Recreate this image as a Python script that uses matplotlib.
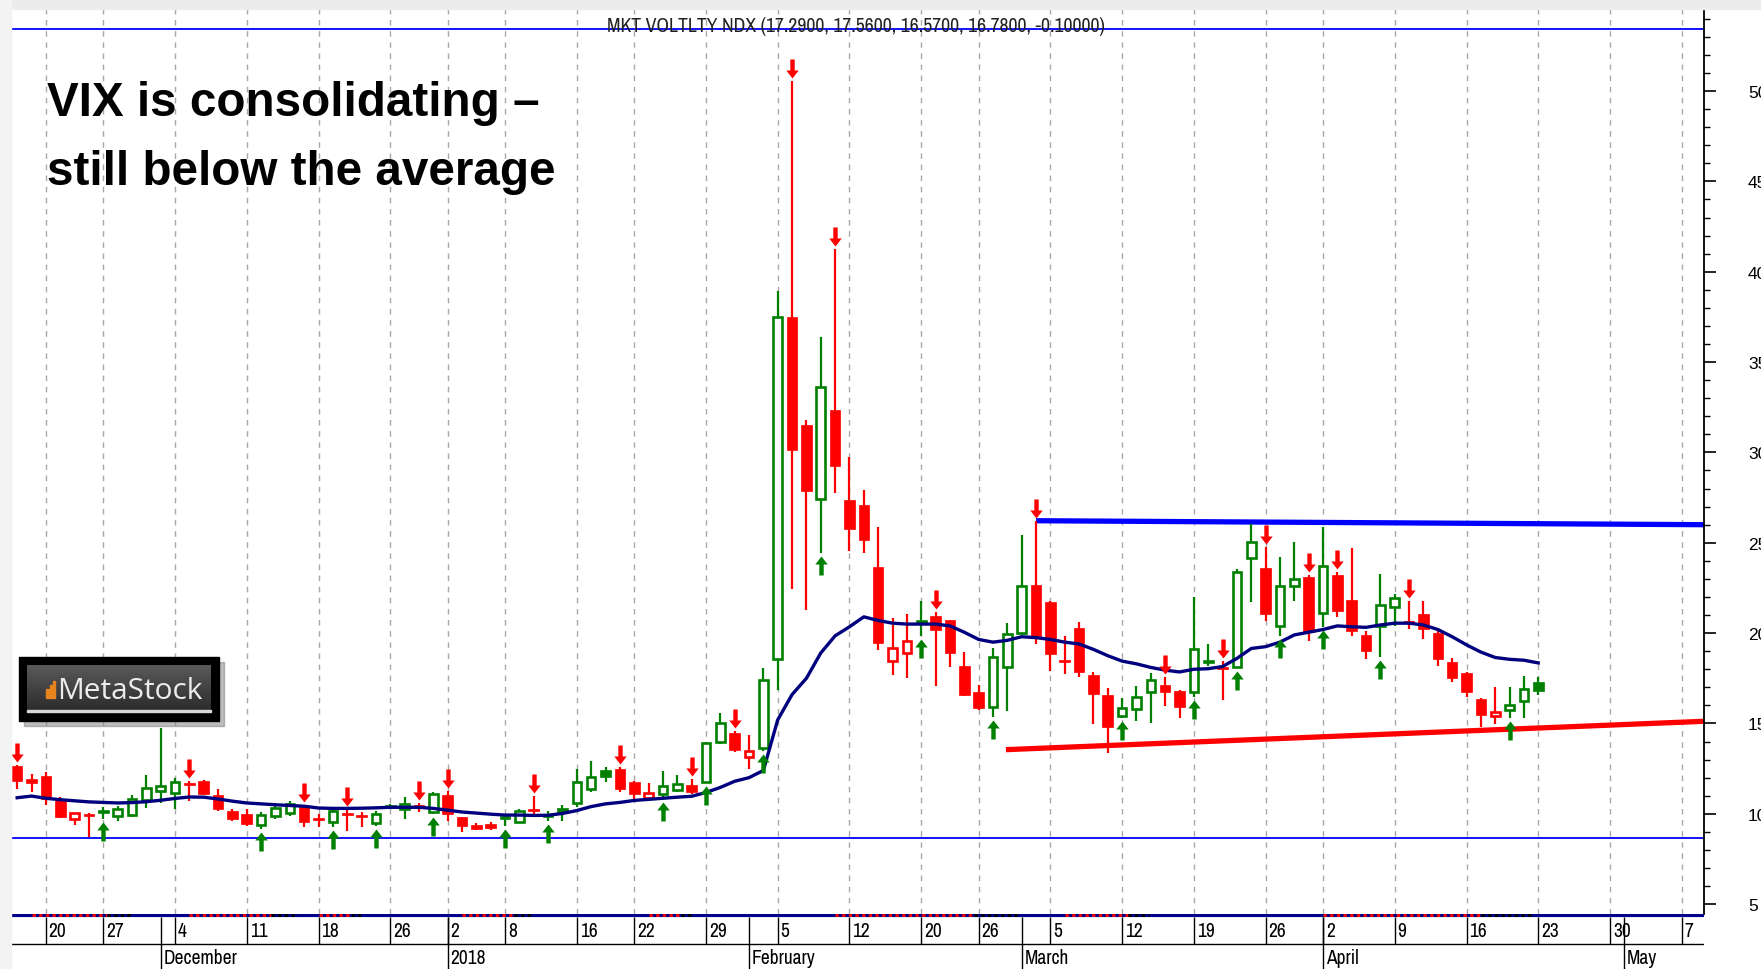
import numpy as np
import pandas as pd
import matplotlib
matplotlib.use('Agg')
import matplotlib.pyplot as plt
from matplotlib.patches import Rectangle
from matplotlib.path import Path
from matplotlib import font_manager
from matplotlib.colors import LinearSegmentedColormap

# trading days on the chart (exchange holidays removed)
holidays = ['2017-11-23', '2017-12-25', '2018-01-01', '2018-01-15', '2018-02-19', '2018-03-30']
days = pd.bdate_range('2017-11-16', '2018-05-11')
days = days[~days.isin(pd.to_datetime(holidays))]

# daily candles, 16 Nov 2017 .. 23 Apr 2018
opens = [12.66, 11.93, 12.11, 10.82, 9.71, 9.92, 10.10, 9.86, 9.93, 10.78,
         11.28, 11.15, 11.62, 11.81, 11.04, 10.17, 9.99, 9.38, 9.86, 10.06,
         10.36, 9.70, 9.56, 9.95, 9.88, 9.49, 10.39, 10.27, 10.38, 10.08,
         11.06, 9.80, 9.38, 9.44, 9.78, 9.56, 10.19, 9.95, 10.34, 10.60,
         11.37, 12.44, 12.48, 11.74, 10.89, 11.10, 11.34, 11.59, 11.78, 13.95,
         14.47, 13.12, 13.62, 18.54, 37.47, 31.51, 27.41, 32.32, 27.34, 27.07,
         23.68, 18.46, 18.88, 20.55, 20.96, 20.72, 18.16, 16.72, 15.89, 18.11,
         20.00, 22.66, 21.74, 18.45, 20.26, 17.68, 16.57, 15.39, 15.80, 16.72,
         17.13, 16.81, 16.72, 18.38, 18.03, 18.11, 24.14, 23.58, 20.41, 22.59,
         23.09, 21.11, 23.22, 21.85, 19.89, 20.41, 21.43, 20.58, 21.06, 20.01,
         18.42, 17.79, 16.35, 15.43, 15.76, 16.26, 17.29]
highs = [12.72, 12.20, 12.29, 10.91, 10.03, 10.03, 10.36, 10.45, 11.04, 12.15,
         14.75, 11.96, 11.83, 11.85, 11.37, 10.25, 10.27, 10.08, 10.45, 10.70,
         10.49, 9.99, 10.20, 10.27, 10.08, 10.17, 10.54, 10.91, 10.60, 11.23,
         11.28, 9.85, 9.49, 9.57, 9.99, 10.25, 11.00, 10.17, 10.49, 12.48,
         12.94, 12.57, 12.57, 11.80, 11.70, 12.39, 12.15, 11.90, 13.99, 15.58,
         14.60, 14.36, 18.05, 38.96, 50.53, 31.78, 36.37, 41.26, 29.77, 27.94,
         25.90, 20.81, 21.07, 21.80, 21.15, 20.75, 18.94, 17.13, 19.16, 20.56,
         25.43, 26.22, 21.80, 19.82, 20.63, 17.85, 16.94, 16.39, 17.09, 17.79,
         17.55, 16.87, 21.98, 19.40, 18.47, 23.55, 26.04, 24.75, 24.19, 25.02,
         23.20, 25.85, 23.40, 24.69, 20.10, 23.27, 22.16, 21.79, 21.79, 20.15,
         18.60, 17.85, 16.40, 17.00, 17.00, 17.64, 17.56]
lows = [11.37, 11.22, 10.49, 9.75, 9.38, 8.70, 9.71, 9.62, 9.80, 10.30,
        10.60, 10.27, 10.73, 11.05, 10.17, 9.62, 9.34, 9.16, 9.71, 9.90,
        9.25, 9.25, 9.25, 9.07, 9.25, 9.34, 10.27, 9.71, 10.12, 9.99,
        9.62, 9.01, 9.10, 9.12, 9.34, 9.49, 9.86, 9.62, 9.62, 10.36,
        11.19, 11.76, 11.19, 10.82, 10.85, 10.82, 11.19, 11.10, 11.70, 13.86,
        13.40, 12.48, 13.48, 16.84, 22.45, 21.28, 24.46, 27.75, 24.54, 24.46,
        19.06, 17.67, 17.49, 19.84, 17.05, 18.12, 16.50, 15.76, 15.34, 15.71,
        19.90, 19.40, 17.92, 17.74, 17.55, 14.97, 13.37, 15.28, 15.15, 15.03,
        15.98, 15.28, 16.44, 18.20, 16.32, 18.05, 21.70, 20.69, 19.86, 21.79,
        19.58, 20.32, 20.87, 19.86, 18.57, 18.66, 20.41, 20.23, 19.67, 18.20,
        17.28, 16.45, 14.79, 14.97, 15.28, 15.28, 16.57]
closes = [11.83, 11.70, 10.82, 9.80, 10.03, 9.88, 10.14, 10.27, 10.82, 11.41,
          11.52, 11.74, 11.57, 11.10, 10.27, 9.71, 9.44, 9.93, 10.30, 10.54,
          9.53, 9.66, 10.17, 9.91, 9.84, 9.99, 10.43, 10.54, 10.34, 11.10,
          9.99, 9.31, 9.16, 9.20, 9.82, 10.17, 10.15, 9.80, 10.02, 11.74,
          12.02, 12.06, 11.37, 11.10, 11.13, 11.56, 11.65, 11.22, 13.90, 15.00,
          13.55, 13.49, 17.42, 37.47, 30.16, 27.86, 33.60, 29.24, 25.77, 25.14,
          19.45, 19.19, 19.58, 20.68, 20.16, 18.88, 16.57, 15.84, 18.66, 19.95,
          22.63, 19.86, 18.84, 18.40, 17.83, 16.63, 14.79, 15.84, 16.44, 17.42,
          16.76, 15.89, 19.12, 18.44, 17.99, 23.40, 25.06, 21.06, 22.63, 22.99,
          20.04, 23.73, 21.24, 20.14, 19.03, 21.55, 21.92, 20.54, 20.23, 18.57,
          17.50, 16.76, 15.47, 15.65, 16.02, 16.88, 16.78]
colors = ('rrrrrrgggg' 'ggrrrrrggg' 'rrgrrgggrg' 'rrrrggrggg' 'ggrrrggrgg'
          'rrggrrgrrr' 'rrrgrrrrgg' 'grrrrrrggg' 'rrggrggrgg' 'rgrrrggrrr' 'rrrrggg')

# moving average line
ma = [10.89, 10.98, 10.86, 10.78, 10.72, 10.66, 10.63, 10.60, 10.62, 10.67,
      10.75, 10.85, 10.93, 10.92, 10.82, 10.70, 10.60, 10.55, 10.50, 10.46,
      10.42, 10.32, 10.30, 10.30, 10.31, 10.33, 10.36, 10.36, 10.36, 10.30,
      10.20, 10.10, 10.04, 9.98, 9.93, 9.93, 9.91, 9.92, 10.02, 10.18,
      10.40, 10.55, 10.63, 10.74, 10.80, 10.86, 10.92, 10.97, 11.18, 11.46,
      11.80, 12.00, 12.40, 15.20, 16.60, 17.50, 18.90, 19.85, 20.35, 20.90,
      20.70, 20.55, 20.50, 20.50, 20.50, 20.40, 20.05, 19.65, 19.50, 19.60,
      19.80, 19.75, 19.65, 19.50, 19.40, 19.10, 18.75, 18.45, 18.30, 18.10,
      17.95, 17.85, 18.00, 18.03, 18.15, 18.60, 19.15, 19.25, 19.50, 19.90,
      20.05, 20.20, 20.40, 20.35, 20.32, 20.45, 20.55, 20.55, 20.45, 20.20,
      19.80, 19.35, 18.95, 18.65, 18.55, 18.50, 18.35]

down_dates = ['2017-11-16', '2017-12-05', '2017-12-15', '2017-12-20', '2017-12-28',
              '2018-01-02', '2018-01-10', '2018-01-19', '2018-01-26', '2018-01-31',
              '2018-02-06', '2018-02-09', '2018-02-21', '2018-03-02', '2018-03-15',
              '2018-03-21', '2018-03-26', '2018-03-29', '2018-04-03', '2018-04-10']
up_dates = ['2017-11-27', '2017-12-12', '2017-12-19', '2017-12-22', '2017-12-29',
            '2018-01-08', '2018-01-11', '2018-01-24', '2018-01-29', '2018-02-02',
            '2018-02-08', '2018-02-20', '2018-02-27', '2018-03-12', '2018-03-19',
            '2018-03-22', '2018-03-27', '2018-04-02', '2018-04-06', '2018-04-19']

# hand drawn trend lines: (x0, y0, x1, y1) in bar units
support = (68.9, 13.55, 117.55, 15.12)
resistance = (71.0, 26.22, 117.55, 26.00)
upper_band = 53.43
lower_band = 8.66

# red/black signal segments on the bottom bar (bar units)
signal_spans = [(1, 8), (12, 19.6), (21, 24), (31, 35.8), (44, 47), (57, 69.9), (73, 78.9), (91, 105.7)]

title = 'MKT VOLTLTY NDX (17.2900, 17.5600, 16.5700, 16.7800, -0.10000)'
note1 = 'VIX is consolidating –'
note2 = 'still below the average'

W, H = 1761, 970
xlim = (-0.43, 117.55)
ylim = (4.455, 54.54)

names = set(f.name for f in font_manager.fontManager.ttflist)
narrow = None
for f in font_manager.fontManager.ttflist:
    if 'Narrow' in f.name or 'Condensed' in f.name:
        narrow = f.name
        break
if narrow is None:
    narrow = 'DejaVu Sans'
    title_size, date_size = 11.6, 10.8
else:
    title_size, date_size = 14.2, 14
arial = 'Liberation Sans' if 'Liberation Sans' in names else 'DejaVu Sans'

RED = '#ff0000'
GREEN = '#008000'

n = len(closes)
x = np.arange(n)
o = np.array(opens)
c = np.array(closes)
hi = np.array(highs)
lo = np.array(lows)
col = np.array([RED if k == 'r' else GREEN for k in colors])
hollow = c >= o

fig = plt.figure(figsize=(W / 100, H / 100), dpi=100)
fig.patch.set_facecolor('white')

def fx(px):
    return px / W

def fy(py):
    return 1 - py / H

# light frame strips on top and left
fig.patches.append(Rectangle((0, fy(10)), 1, 10 / H, transform=fig.transFigure, color='#ececec', zorder=0))
fig.patches.append(Rectangle((0, 0), fx(11), 1, transform=fig.transFigure, color='#f3f3f3', zorder=0))

ax = fig.add_axes([fx(11), 55 / H, 1693 / W, 905 / H])
ax.set_xlim(*xlim)
ax.set_ylim(*ylim)
ax.set_facecolor('white')

# weekly / monthly positions
dow = days.dayofweek.values
week_pos = [k for k in range(1, len(days)) if dow[k] < dow[k - 1] and k <= xlim[1]]
month_pos = [k for k in range(1, len(days)) if days[k].month != days[k - 1].month and k <= xlim[1]]

ax.vlines(week_pos, ylim[0], ylim[1], colors='#a8a8a8', linestyles=(0, (4, 4)), lw=1, zorder=1)

ax.axhline(upper_band, color='#0000ff', lw=1.3, zorder=2)
ax.axhline(lower_band, color='#0000ff', lw=1.3, zorder=2)

# candles
ax.vlines(x, lo, hi, colors=col, lw=1.6, zorder=3)
body_lo = np.minimum(o, c)
body_h = np.abs(c - o)
filled = ~hollow
ax.bar(x[filled], np.maximum(body_h[filled], 0.12), bottom=body_lo[filled], width=0.74,
       color=col[filled], edgecolor=col[filled], lw=0.5, zorder=4)
ax.bar(x[hollow], np.maximum(body_h[hollow], 0.02), bottom=body_lo[hollow], width=0.6,
       color='white', edgecolor=col[hollow], lw=1.9, zorder=4)

# moving average
ax.plot(x, ma, color='#00007f', lw=2.4, zorder=5)

# trend lines
ax.plot([support[0], support[2]], [support[1], support[3]], color=RED, lw=3.8, solid_capstyle='butt', zorder=2)
ax.plot([resistance[0], resistance[2]], [resistance[1], resistance[3]], color='#0000ff', lw=3.8,
        solid_capstyle='butt', zorder=2)

# signal arrows (marker paths in pixel units, tip 3px away from the bar)
up_verts = [(0, -3), (6.2, -11), (2.2, -11), (2.2, -22), (-2.2, -22), (-2.2, -11), (-6.2, -11), (0, -3)]
dn_verts = [(vx, -vy) for vx, vy in up_verts]
up_arrow = Path(up_verts, closed=True)
dn_arrow = Path(dn_verts, closed=True)
msize = 2 * 22 * 72 / 100

up_i = [days.get_loc(pd.Timestamp(d)) for d in up_dates]
dn_i = [days.get_loc(pd.Timestamp(d)) for d in down_dates]
ax.plot(up_i, lo[up_i], ls='none', marker=up_arrow, ms=msize, color=GREEN, mew=0, zorder=6)
ax.plot(dn_i, hi[dn_i], ls='none', marker=dn_arrow, ms=msize, color=RED, mew=0, zorder=6)

# axes frame: only the right price scale
for s in ['top', 'left', 'bottom']:
    ax.spines[s].set_visible(False)
ax.spines['right'].set_linewidth(1.3)
ax.set_xticks([])
ax.yaxis.tick_right()
ax.set_yticks(np.arange(5, 55, 5))
ax.set_yticks(np.arange(5, 55), minor=True)
ax.tick_params(axis='y', which='major', length=8.6, width=1.2, pad=23, labelsize=12.5)
ax.tick_params(axis='y', which='minor', length=4.3, width=1.0)
for lab in ax.get_yticklabels():
    lab.set_family(arial)

# date strip under the chart
axd = fig.add_axes([fx(11), 0, 1693 / W, 55 / H])
axd.set_xlim(*xlim)
axd.set_ylim(970, 915)
axd.axis('off')
axd.hlines(916.5, xlim[0], xlim[1], color='#00008b', lw=3)
for a, b in signal_spans:
    m = a + 0.75 * (b - a)
    axd.plot([a, m], [916.5, 916.5], color=RED, lw=2, ls=(0, (1.2, 1.2)))
    axd.plot([m, b], [916.5, 916.5], color='black', lw=2, ls=(0, (1.2, 1.2)))
axd.hlines(945, xlim[0], xlim[1], color='black', lw=1)
axd.vlines(week_pos, 918.5, 945, color='black', lw=1)
axd.vlines(month_pos, 918.5, 970, color='black', lw=1)
for k in week_pos:
    axd.text(k + 0.2, 932, str(days[k].day), fontsize=date_size, family=narrow, stretch='condensed',
             va='center', ha='left')
for k in month_pos:
    lab = '2018' if days[k].month == 1 else days[k].strftime('%B')
    axd.text(k + 0.2, 959, lab, fontsize=date_size, family=narrow, stretch='condensed',
             va='center', ha='left')

# header and notes
fig.text(fx(856), fy(27), title, fontsize=title_size, family=narrow, stretch='condensed',
         ha='center', va='center', color='#222222')
fig.text(fx(47), fy(115.5), note1, fontsize=34.3, fontweight='bold', family=arial, va='baseline')
fig.text(fx(47), fy(185), note2, fontsize=34.3, fontweight='bold', family=arial, va='baseline')

# MetaStock badge
fig.patches.append(Rectangle((fx(24), fy(727)), 200 / W, 64 / H, transform=fig.transFigure,
                             color='#7a7a7a', alpha=0.5, zorder=7))
fig.patches.append(Rectangle((fx(19), fy(722)), 200 / W, 64 / H, transform=fig.transFigure,
                             color='black', zorder=8))
logo_ax = fig.add_axes([fx(27), fy(711), 184 / W, 45 / H], zorder=9)
grad = LinearSegmentedColormap.from_list('logo', ['#5a5a5a', '#2c2c2c'])
logo_ax.imshow(np.linspace(0, 1, 50).reshape(-1, 1), cmap=grad, aspect='auto', extent=[0, 1, 0, 1])
logo_ax.axis('off')
fig.add_artist(Rectangle((fx(27), fy(713)), 184 / W, 2 / H, transform=fig.transFigure,
                         color='#d8d8d8', zorder=10))
for bx, top in [(46, 690), (49.5, 686), (53, 682)]:
    fig.add_artist(Rectangle((fx(bx), fy(699)), 2.5 / W, (699 - top) / H, transform=fig.transFigure,
                             color='#e8841e', zorder=10))
fig.text(fx(57), fy(699), 'MetaStock', fontsize=21.5, family='Open Sans', color='#ececec',
         va='baseline', ha='left', zorder=11)

fig.savefig('out.png', dpi=100)
